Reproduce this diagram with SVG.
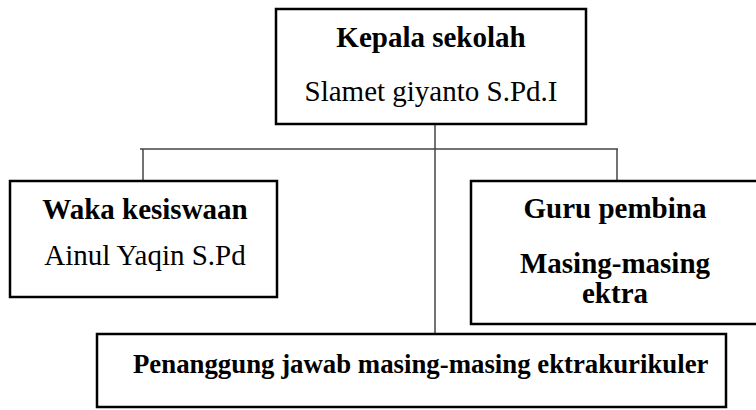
<svg xmlns="http://www.w3.org/2000/svg" width="756" height="410" viewBox="0 0 756 410">
<style>
.box{fill:#fff;stroke:#000;stroke-width:2.5}
.t{font-family:"Liberation Serif","Times New Roman",serif;font-size:29px;fill:#000;text-anchor:middle}
.b{font-weight:bold}
.c{stroke:#444;stroke-width:1.5;fill:none}
</style>
<rect width="756" height="410" fill="#fff"/>
<g id="connectors">
<line class="c" x1="435" y1="124" x2="435" y2="334"/>
<line class="c" x1="140" y1="149" x2="618" y2="149"/>
<line class="c" x1="143" y1="149" x2="143" y2="181"/>
<line class="c" x1="617" y1="149" x2="617" y2="181"/>
</g>
<g id="kepala">
<rect class="box" x="276" y="9" width="310" height="115"/>
<text class="t b" x="431" y="47">Kepala sekolah</text>
<text class="t" x="431" y="101">Slamet giyanto S.Pd.I</text>
</g>
<g id="waka">
<rect class="box" x="10" y="181" width="267" height="116"/>
<text class="t b" x="145" y="219">Waka kesiswaan</text>
<text class="t" x="145" y="265">Ainul Yaqin S.Pd</text>
</g>
<g id="guru">
<rect class="box" x="471" y="181" width="290" height="143"/>
<text class="t b" x="615" y="218">Guru pembina</text>
<text class="t b" x="615" y="273">Masing-masing</text>
<text class="t b" x="615" y="303">ektra</text>
</g>
<g id="penanggung">
<rect class="box" x="97" y="334" width="629" height="73"/>
<text class="t b" x="133" y="373" style="text-anchor:start;font-size:26.8px">Penanggung jawab masing-masing ektrakurikuler</text>
</g>
</svg>
